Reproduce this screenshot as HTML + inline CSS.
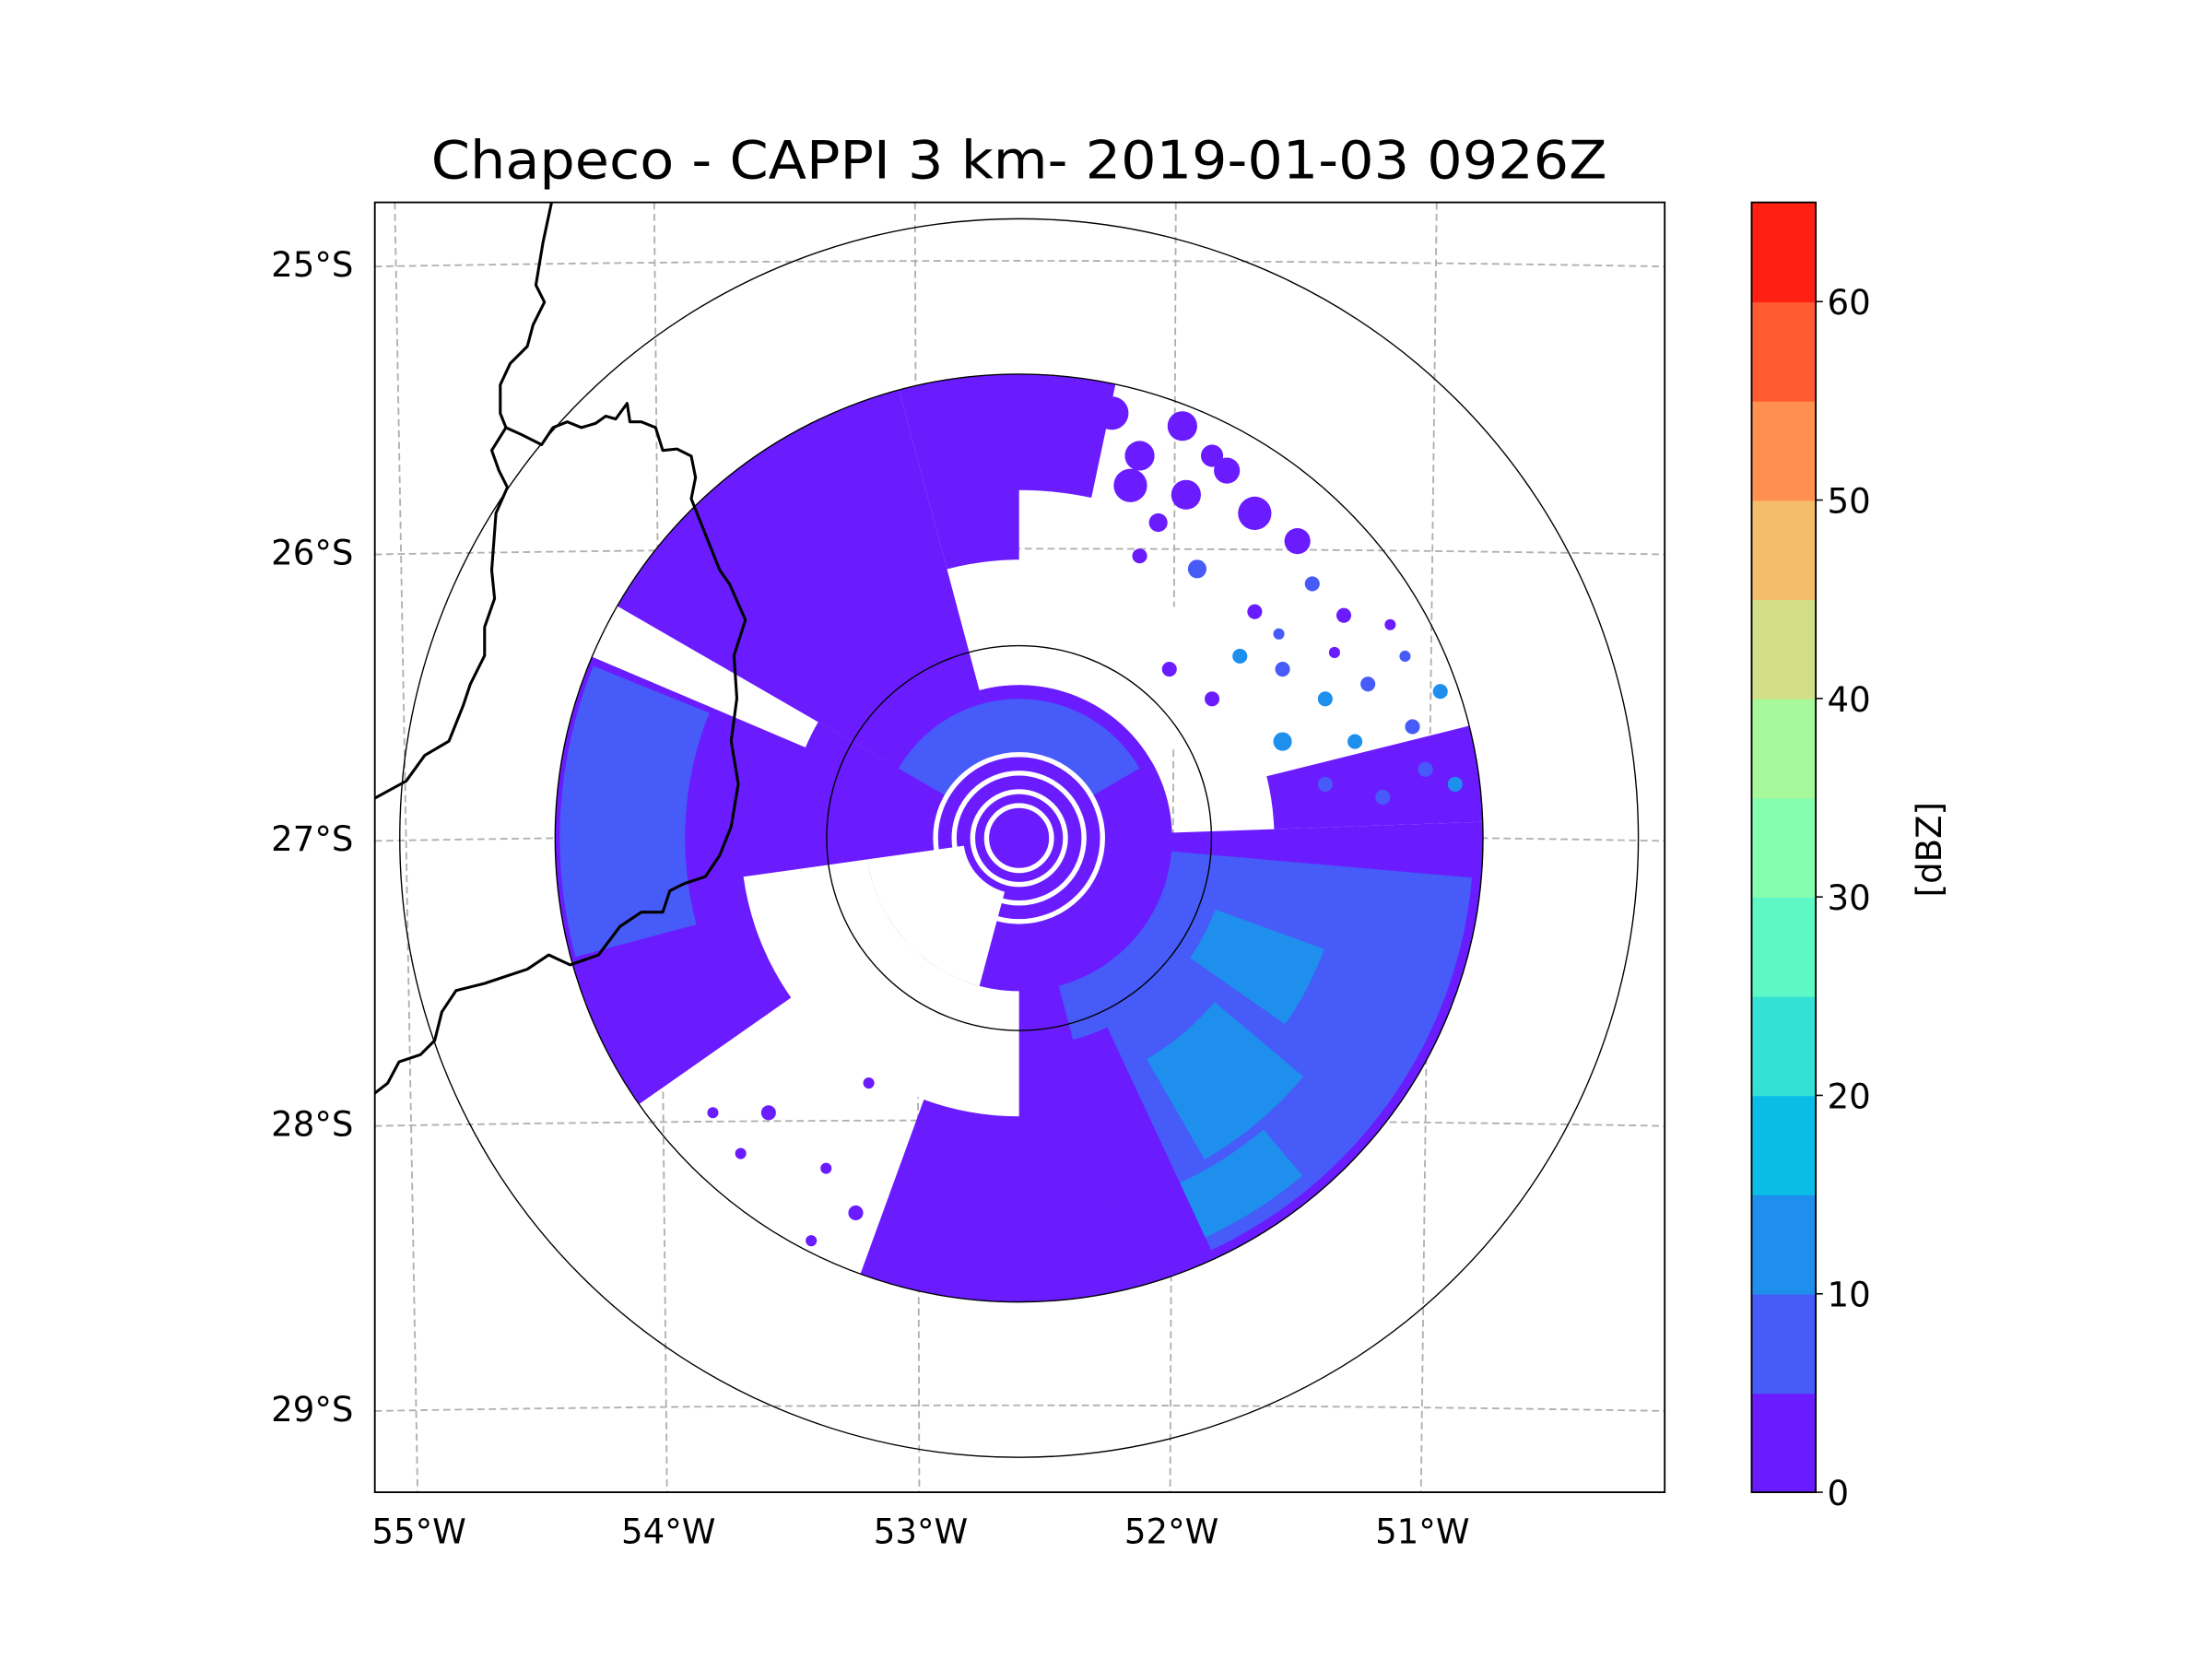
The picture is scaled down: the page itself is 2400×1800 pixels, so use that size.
<!DOCTYPE html>
<html><head><meta charset="utf-8"><style>
html,body{margin:0;padding:0;background:#fff;}
svg{display:block;}
text{font-family:"DejaVu Sans","Liberation Sans",sans-serif;fill:#000;}
</style></head><body>
<svg id="fig" width="2400" height="1800" viewBox="0 0 1552 1164" preserveAspectRatio="none" xmlns="http://www.w3.org/2000/svg">
<rect x="0" y="0" width="1552" height="1164" fill="#fff"/>
<text x="715" y="125" font-size="37" text-anchor="middle" textLength="825" lengthAdjust="spacingAndGlyphs">Chapeco - CAPPI 3 km- 2019-01-03 0926Z</text>
<defs><clipPath id="axclip"><rect x="263" y="142" width="905" height="905"/></clipPath></defs>
<g id="plot" clip-path="url(#axclip)"></g>
<rect x="263" y="142" width="905" height="905" fill="none" stroke="#000" stroke-width="1.2"/>
<g id="labels"></g>
<g id="cbar"></g>
<text transform="translate(1362,596) rotate(-90)" font-size="24" text-anchor="middle">[dBZ]</text>
</svg>
<script>
// ---- data ----
const cbarBounds = [0,5,10,15,20,25,30,35,40,45,50,55,60,65];
const cbarColors = ["#6a1cff","#465bf8","#1f8fee","#0abde6","#34e1d5","#5df8c4","#85feae","#a6f99a","#d2df86","#f4bd6c","#ff9050","#ff5a31","#ff1f13"];
const cbarTicks = [0,10,20,30,40,50,60];
const latTicks = [25,26,27,28,29];
const latLabels = ["25°S","26°S","27°S","28°S","29°S"];
const lonTicks = [55,54,53,52,51];
const lonLabels = ["55°W","54°W","53°W","52°W","51°W"];
// radar sectors: [az start, az end, range start (frac), range end (frac), dBZ or null = no echo]
const sectorAz0 = [0,   88, 235,300,345,350, 76, 95,255,300,110,130,140,155,180,293,345,195,270];
const sectorAz1 = [360,200, 300,345,360,372, 88,165,292,420,125,150,155,165,262,300,420,262,300];
const sectorR0  = [0,  0.3, 0.3,0.3,0.55,0.75,0.55,0.33,0.72,0.18,0.45,0.55,0.82,0.45,0.33,0.5,0.33,0.12,0.3];
const sectorR1  = [0.33,1.0,1.0,1.0,1.0,1.0, 1.0,0.98,0.99,0.3,0.7,0.8,0.95,0.98,0.6,1.0,0.6,0.33,0.5];
const sectorDbz = [2,   2,  2,  2,  2,  2,   2,  7,  7,  7,  12, 12, 12,  2, null,null,null,null,2];
// isolated echoes: east/north km from radar, radius km, dBZ
const blobE = [65,96,119,142,165,188,142,165,181,212,208,227,127,112,65,50,35,127,158,104,81,196,219,235,88,104,-42,-19,-73,-104,-119,-88,-135,-104,-81,-88,-165,-112,150,175,60,90,75,140,170,200,-150,-60,-30];
const blobN = [152,145,98,91,75,83,52,29,52,60,98,79,122,198,206,229,222,175,137,75,91,22,37,29,222,206,214,229,222,198,206,175,-148,-178,-132,-202,-148,-217,160,120,190,185,170,110,100,115,-170,-230,-240];
const blobSize = [4,5,4,4,4,4,5,4,4,4,3,4,4,7,8,9,8,9,4,4,4,4,4,4,8,6,10,9,9,9,8,6,4,3,3,4,3,3,7,4,9,8,5,3,3,3,3,3,3];
const blobDbz = [2,8,12,8,12,8,12,8,12,8,8,12,2,2,2,2,2,2,8,2,2,8,8,12,2,2,2,2,2,2,2,2,2,2,2,2,2,2,2,2,2,2,2,8,2,2,2,2,2];
const ringR = [0.07,0.1,0.14,0.18];
// boundaries (display coords)
const borderA = [[387,142],[381,170],[376,200],[382,212],[374,228],[370,243],[358,255],[351,270],[351,290],[355,300],[345,316],[350,330],[356,342],[348,360],[345,400],[347,420],[340,440],[340,460],[330,480],[325,495],[315,520],[298,530],[285,548],[263,560]];
const borderB = [[355,300],[366,305],[380,312],[388,300],[398,296],[408,300],[418,297],[425,292],[432,294],[440,283],[442,296],[450,296],[460,300],[465,316],[475,315],[485,320],[488,335],[485,350],[495,375],[505,400],[512,410],[523,435],[515,460],[517,490],[513,520],[518,550],[513,580],[505,600],[495,615],[480,620],[470,625],[465,640],[450,640],[435,650],[420,670],[400,677],[385,670],[370,680],[355,685],[340,690],[320,695],[310,710],[305,730],[295,740],[280,745],[272,760],[263,767]];
// ---- geometry ----
const NS="http://www.w3.org/2000/svg";
const CX=715, CY=588, R=325.5, RANGEKM=250;
const plot=document.getElementById('plot');
function el(tag,attrs,parent){const e=document.createElementNS(NS,tag);for(const k in attrs)e.setAttribute(k,attrs[k]);(parent||plot).appendChild(e);return e;}
function colorOf(v){if(v===null)return "#fff";let i=0;while(i<cbarColors.length-1&&v>=cbarBounds[i+1])i++;return cbarColors[i];}
function pt(az,r){const a=az*Math.PI/180;return [CX+r*R*Math.sin(a),CY-r*R*Math.cos(a)];}
function kmX(e){return CX+e/RANGEKM*R;}
function kmY(n){return CY-n/RANGEKM*R;}
function sectorPath(a0,a1,r0,r1){
  if(a1-a0>=359.9){
    return `M${CX-r1*R},${CY}A${r1*R},${r1*R} 0 1 1 ${CX+r1*R},${CY}A${r1*R},${r1*R} 0 1 1 ${CX-r1*R},${CY}Z`+
      (r0>0?`M${CX-r0*R},${CY}A${r0*R},${r0*R} 0 1 0 ${CX+r0*R},${CY}A${r0*R},${r0*R} 0 1 0 ${CX-r0*R},${CY}Z`:"");
  }
  const lg=(a1-a0)>180?1:0;
  const p1=pt(a0,r1),p2=pt(a1,r1),p3=pt(a1,r0),p4=pt(a0,r0);
  return `M${p1[0]},${p1[1]}A${r1*R},${r1*R} 0 ${lg} 1 ${p2[0]},${p2[1]}L${p3[0]},${p3[1]}`+
    (r0>0?`A${r0*R},${r0*R} 0 ${lg} 0 ${p4[0]},${p4[1]}`:"")+"Z";
}
// gridlines
const latY=[183,385,586,786,986];
const lonTop=[277,459,642,825,1008], lonBot=[293,468,645,821,997];
latTicks.forEach((t,i)=>{
  const y=latY[i];
  const g=el('path',{d:`M263,${y+4}Q715,${y-4} 1168,${y+4}`,fill:'none',stroke:'#b0b0b0','stroke-width':1.2,'stroke-dasharray':'5,3'});
  
  
});
lonTicks.forEach((t,i)=>{
  const g=el('path',{d:`M${lonTop[i]},142L${lonBot[i]},1047`,fill:'none',stroke:'#b0b0b0','stroke-width':1.2,'stroke-dasharray':'5,3'});
  
  
});
// radar data
const radar=el('g',{});


for(let i=0;i<sectorAz0.length;i++){
  const p=el('path',{d:sectorPath(sectorAz0[i],sectorAz1[i],sectorR0[i],sectorR1[i]),fill:colorOf(sectorDbz[i])},radar);
  
  
}
for(let i=0;i<blobE.length;i++){
  const c=el('circle',{cx:kmX(blobE[i]),cy:kmY(blobN[i]),r:blobSize[i]/RANGEKM*R,fill:colorOf(blobDbz[i])},radar);
  
  
}
ringR.forEach(r=>{
  const c=el('circle',{cx:CX,cy:CY,r:r*R,fill:'none',stroke:'#fff','stroke-width':3.5},radar);
  
  
});
// range rings
[135,325.5,434.5].forEach((rr,i)=>{
  const c=el('circle',{cx:CX,cy:CY,r:rr,fill:'none',stroke:'#000','stroke-width':0.9});
  
  
});
// borders
[borderA,borderB].forEach((b,i)=>{
  const p=el('polyline',{points:b.map(q=>q.join(',')).join(' '),fill:'none',stroke:'#000','stroke-width':2,'stroke-linejoin':'round'});
  
  
});
// tick labels
const labels=document.getElementById('labels');
latLabels.forEach((s,i)=>{
  const t=el('text',{x:248,y:latY[i]+11,'font-size':24,'text-anchor':'end'},labels);
  t.textContent=s;
  
  
});
lonLabels.forEach((s,i)=>{
  const t=el('text',{x:lonBot[i]+1,y:1083,'font-size':24,'text-anchor':'middle'},labels);
  t.textContent=s;
  
  
});
// colorbar
const cb=document.getElementById('cbar');
const CB_X=1229,CB_W=45,CB_TOP=142,CB_BOT=1047;
function cbY(v){return CB_BOT-(v-cbarBounds[0])/(cbarBounds[cbarBounds.length-1]-cbarBounds[0])*(CB_BOT-CB_TOP);}
cbarColors.forEach((c,i)=>{
  const r=el('rect',{x:CB_X,y:cbY(cbarBounds[i+1]),width:CB_W,height:cbY(cbarBounds[i])-cbY(cbarBounds[i+1])+0.5,fill:c},cb);
  
  
});
el('rect',{x:CB_X,y:CB_TOP,width:CB_W,height:CB_BOT-CB_TOP,fill:'none',stroke:'#000','stroke-width':1.2},cb);
cbarTicks.forEach(v=>{
  const y=cbY(v);
  el('line',{x1:CB_X+CB_W,x2:CB_X+CB_W+5,y1:y,y2:y,stroke:'#000','stroke-width':1},cb);
  const t=el('text',{x:1282,y:y+9,'font-size':24},cb);
  t.textContent=String(v);
  
  
});
</script>
</body></html>
